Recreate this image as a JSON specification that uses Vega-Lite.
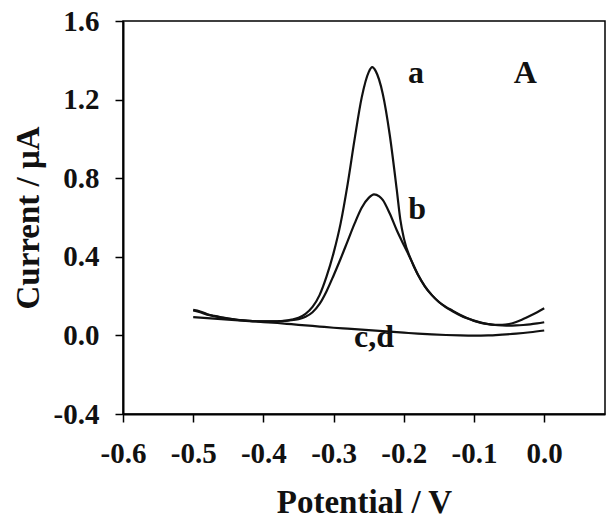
{
  "$schema": "https://vega.github.io/schema/vega-lite/v6.json",
  "width": 482,
  "height": 393,
  "autosize": {"type": "none"},
  "padding": {"left": 123, "top": 21, "right": 1, "bottom": 105},
  "background": "white",
  "config": {
    "font": "Liberation Serif",
    "view": {"stroke": "#000", "strokeWidth": 1.5},
    "axis": {"grid": false, "labelFlush": false, "labelOverlap": false, "domainColor": "#000", "domainWidth": 2, "tickColor": "#000", "tickWidth": 1.5, "tickSize": 8,
      "labelFont": "Liberation Serif", "labelFontWeight": "bold", "labelFontSize": 29, "labelColor": "#111",
      "titleFont": "Liberation Serif", "titleFontWeight": "bold", "titleFontSize": 33, "titleColor": "#111"}
  },
  "datasets": {
    "curves": [
      {"s":"a","x":-0.50,"y":0.127},{"s":"a","x":-0.49,"y":0.118},{"s":"a","x":-0.48,"y":0.106},{"s":"a","x":-0.47,"y":0.098},{"s":"a","x":-0.46,"y":0.091},{"s":"a","x":-0.45,"y":0.085},{"s":"a","x":-0.44,"y":0.080},{"s":"a","x":-0.43,"y":0.077},{"s":"a","x":-0.42,"y":0.074},{"s":"a","x":-0.41,"y":0.072},{"s":"a","x":-0.40,"y":0.071},{"s":"a","x":-0.39,"y":0.071},{"s":"a","x":-0.38,"y":0.072},{"s":"a","x":-0.37,"y":0.074},{"s":"a","x":-0.36,"y":0.080},{"s":"a","x":-0.35,"y":0.090},{"s":"a","x":-0.34,"y":0.110},{"s":"a","x":-0.33,"y":0.145},{"s":"a","x":-0.32,"y":0.205},{"s":"a","x":-0.31,"y":0.300},{"s":"a","x":-0.30,"y":0.420},{"s":"a","x":-0.29,"y":0.570},{"s":"a","x":-0.28,"y":0.770},{"s":"a","x":-0.27,"y":1.000},{"s":"a","x":-0.26,"y":1.210},{"s":"a","x":-0.25,"y":1.340},{"s":"a","x":-0.245,"y":1.365},{"s":"a","x":-0.24,"y":1.345},{"s":"a","x":-0.23,"y":1.230},{"s":"a","x":-0.22,"y":1.020},{"s":"a","x":-0.21,"y":0.740},{"s":"a","x":-0.205,"y":0.590},{"s":"a","x":-0.20,"y":0.495},{"s":"a","x":-0.19,"y":0.387},{"s":"a","x":-0.18,"y":0.310},{"s":"a","x":-0.17,"y":0.250},{"s":"a","x":-0.16,"y":0.205},{"s":"a","x":-0.15,"y":0.170},{"s":"a","x":-0.14,"y":0.145},{"s":"a","x":-0.13,"y":0.125},{"s":"a","x":-0.12,"y":0.105},{"s":"a","x":-0.11,"y":0.088},{"s":"a","x":-0.10,"y":0.075},{"s":"a","x":-0.09,"y":0.065},{"s":"a","x":-0.08,"y":0.058},{"s":"a","x":-0.07,"y":0.054},{"s":"a","x":-0.06,"y":0.054},{"s":"a","x":-0.05,"y":0.058},{"s":"a","x":-0.04,"y":0.068},{"s":"a","x":-0.03,"y":0.083},{"s":"a","x":-0.02,"y":0.100},{"s":"a","x":-0.01,"y":0.118},{"s":"a","x":0.00,"y":0.138},
      {"s":"b","x":-0.50,"y":0.130},{"s":"b","x":-0.49,"y":0.122},{"s":"b","x":-0.48,"y":0.108},{"s":"b","x":-0.47,"y":0.099},{"s":"b","x":-0.46,"y":0.092},{"s":"b","x":-0.45,"y":0.086},{"s":"b","x":-0.44,"y":0.081},{"s":"b","x":-0.43,"y":0.077},{"s":"b","x":-0.42,"y":0.074},{"s":"b","x":-0.41,"y":0.072},{"s":"b","x":-0.40,"y":0.071},{"s":"b","x":-0.39,"y":0.071},{"s":"b","x":-0.38,"y":0.072},{"s":"b","x":-0.37,"y":0.074},{"s":"b","x":-0.36,"y":0.077},{"s":"b","x":-0.35,"y":0.083},{"s":"b","x":-0.34,"y":0.095},{"s":"b","x":-0.33,"y":0.118},{"s":"b","x":-0.32,"y":0.160},{"s":"b","x":-0.31,"y":0.225},{"s":"b","x":-0.30,"y":0.305},{"s":"b","x":-0.29,"y":0.390},{"s":"b","x":-0.28,"y":0.480},{"s":"b","x":-0.27,"y":0.570},{"s":"b","x":-0.26,"y":0.650},{"s":"b","x":-0.25,"y":0.700},{"s":"b","x":-0.2425,"y":0.718},{"s":"b","x":-0.235,"y":0.708},{"s":"b","x":-0.23,"y":0.690},{"s":"b","x":-0.22,"y":0.620},{"s":"b","x":-0.21,"y":0.535},{"s":"b","x":-0.20,"y":0.460},{"s":"b","x":-0.19,"y":0.387},{"s":"b","x":-0.18,"y":0.310},{"s":"b","x":-0.17,"y":0.250},{"s":"b","x":-0.16,"y":0.205},{"s":"b","x":-0.15,"y":0.170},{"s":"b","x":-0.14,"y":0.143},{"s":"b","x":-0.13,"y":0.122},{"s":"b","x":-0.12,"y":0.103},{"s":"b","x":-0.11,"y":0.087},{"s":"b","x":-0.10,"y":0.074},{"s":"b","x":-0.09,"y":0.064},{"s":"b","x":-0.08,"y":0.057},{"s":"b","x":-0.07,"y":0.053},{"s":"b","x":-0.06,"y":0.051},{"s":"b","x":-0.05,"y":0.050},{"s":"b","x":-0.04,"y":0.051},{"s":"b","x":-0.03,"y":0.053},{"s":"b","x":-0.02,"y":0.056},{"s":"b","x":-0.01,"y":0.061},{"s":"b","x":0.00,"y":0.067},
      {"s":"c,d","x":-0.50,"y":0.093},{"s":"c,d","x":-0.48,"y":0.088},{"s":"c,d","x":-0.46,"y":0.083},{"s":"c,d","x":-0.44,"y":0.078},{"s":"c,d","x":-0.42,"y":0.073},{"s":"c,d","x":-0.40,"y":0.068},{"s":"c,d","x":-0.38,"y":0.063},{"s":"c,d","x":-0.36,"y":0.057},{"s":"c,d","x":-0.34,"y":0.051},{"s":"c,d","x":-0.32,"y":0.045},{"s":"c,d","x":-0.30,"y":0.039},{"s":"c,d","x":-0.28,"y":0.034},{"s":"c,d","x":-0.26,"y":0.029},{"s":"c,d","x":-0.24,"y":0.024},{"s":"c,d","x":-0.22,"y":0.019},{"s":"c,d","x":-0.20,"y":0.014},{"s":"c,d","x":-0.18,"y":0.009},{"s":"c,d","x":-0.16,"y":0.005},{"s":"c,d","x":-0.14,"y":0.002},{"s":"c,d","x":-0.12,"y":0.000},{"s":"c,d","x":-0.10,"y":-0.001},{"s":"c,d","x":-0.08,"y":0.000},{"s":"c,d","x":-0.06,"y":0.004},{"s":"c,d","x":-0.04,"y":0.009},{"s":"c,d","x":-0.02,"y":0.016},{"s":"c,d","x":0.00,"y":0.025}
    ],
    "labels": [
      {"t":"a","x":-0.1826,"y":1.285},
      {"t":"A","x":-0.027,"y":1.285},
      {"t":"b","x":-0.181,"y":0.59},
      {"t":"c,d","x":-0.2425,"y":-0.058}
    ]
  },
  "layer": [
    {
      "data": {"name": "curves"},
      "mark": {"type": "line", "color": "#111", "strokeWidth": 2.2, "interpolate": "monotone"},
      "encoding": {
        "x": {"field": "x", "type": "quantitative",
          "scale": {"domain": [-0.6, 0.0866], "nice": false, "zero": false},
          "axis": {"values": [-0.6, -0.5, -0.4, -0.3, -0.2, -0.1, 0.0],
            "labelExpr": "datum.value < -0.001 ? '-' + format(-datum.value, '.1f') : format(abs(datum.value), '.1f')",
            "labelPadding": 17, "title": "Potential / V", "titleBaseline": "alphabetic", "titleY": 98, "titleX": 241, "titleAnchor": "middle"}},
        "y": {"field": "y", "type": "quantitative",
          "scale": {"domain": [-0.4, 1.6], "nice": false, "zero": false},
          "axis": {"values": [-0.4, 0.0, 0.4, 0.8, 1.2, 1.6],
            "labelExpr": "datum.value < -0.001 ? '-' + format(-datum.value, '.1f') : format(abs(datum.value), '.1f')",
            "labelPadding": 16, "title": "Current / μA", "titleBaseline": "alphabetic", "titleAngle": -90, "titleX": -85, "titleY": 196.5, "titleAlign": "center"}},
        "detail": {"field": "s"}
      }
    },
    {
      "data": {"name": "labels"},
      "mark": {"type": "text", "font": "Liberation Serif", "fontWeight": "bold", "fontSize": 32, "color": "#111", "align": "center", "baseline": "alphabetic"},
      "encoding": {
        "x": {"field": "x", "type": "quantitative"},
        "y": {"field": "y", "type": "quantitative"},
        "text": {"field": "t"}
      }
    }
  ]
}
